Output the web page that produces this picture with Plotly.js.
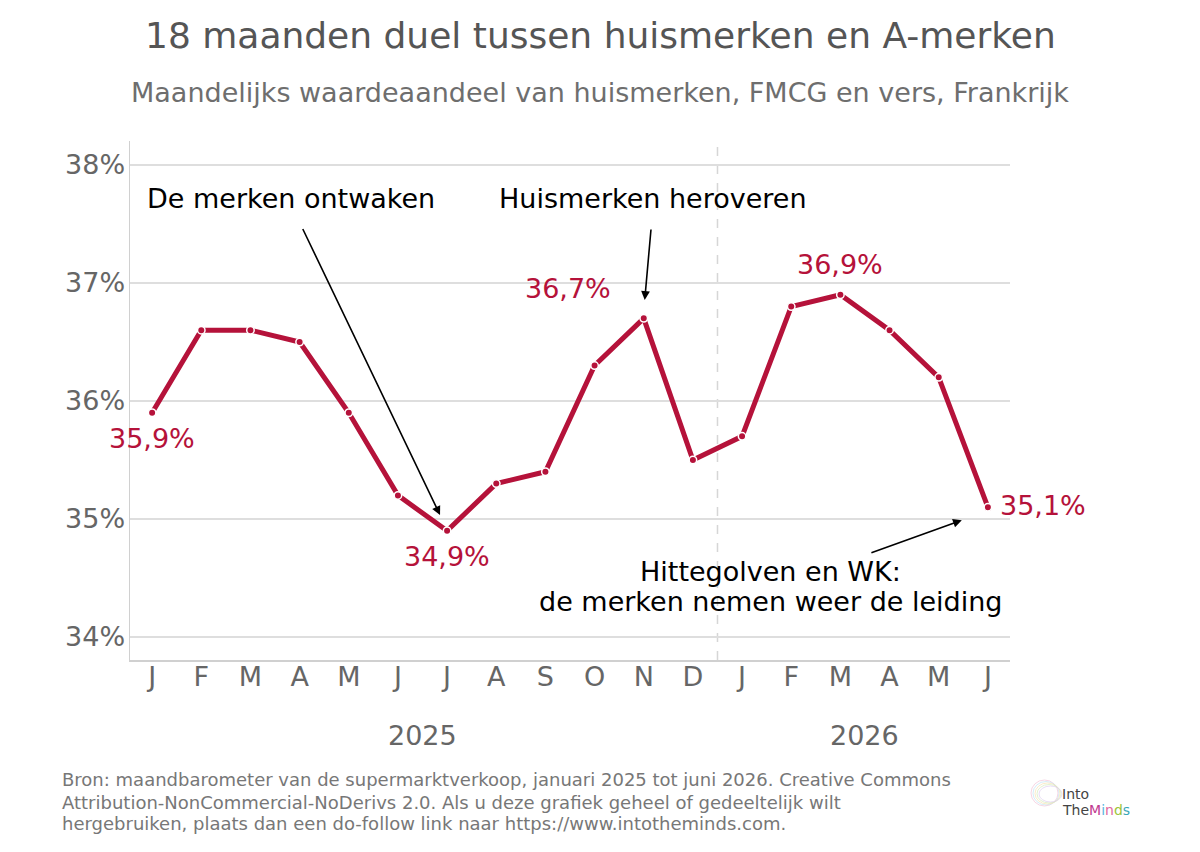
<!DOCTYPE html>
<html><head><meta charset="utf-8">
<script src="https://cdn.plot.ly/plotly-3.0.1.min.js"></script>
<style>body{margin:0;background:#fff}#c{width:1200px;height:852px}</style>
</head><body><div id="c"></div>
<script>
const months = ["J","F","M","A","M","J","J","A","S","O","N","D","J","F","M","A","M","J"];
const share = [35.9,36.6,36.6,36.5,35.9,35.2,34.9,35.3,35.4,36.3,36.7,35.5,35.7,36.8,36.9,36.6,36.2,35.1];
const years = ["2025","2026"];
const yTicks = [34,35,36,37,38];
const yTickLabels = ["34%","35%","36%","37%","38%"];
const footerLines = [
  "Bron: maandbarometer van de supermarktverkoop, januari 2025 tot juni 2026. Creative Commons",
  "Attribution-NonCommercial-NoDerivs 2.0. Als u deze grafiek geheel of gedeeltelijk wilt",
  "hergebruiken, plaats dan een do-follow link naar https://www.intotheminds.com."
];

const red = "#b5123a";
const font = "DejaVu Sans, sans-serif";
const idx = months.map((m,i)=>i);

// plot area in pixels: x 130..1010, y 141..660
const px = v => (v - 130) / 880;
const py = v => (660 - v) / 519;

const trace = {
  x: idx, y: share, type: "scatter", mode: "lines+markers",
  line: {color: red, width: 5},
  marker: {color: red, size: 7.5, line: {color: "#fff", width: 1.5}},
  hoverinfo: "skip"
};

function lab(i, text, xs, ys, anchor){
  return {x: i, y: share[i], text: text, showarrow: false, xshift: xs, yshift: ys,
    xanchor: anchor || "center", yanchor: "middle", font: {family: font, size: 27, color: red}};
}
function blk(x, y, text, anchor){
  return {x: x, y: y, text: text, showarrow: false, xanchor: anchor || "center", yanchor: "middle",
    font: {family: font, size: 27, color: "#000"}};
}
function arrow(x, y, ax, ay){
  return {x: x, y: y, ax: ax, ay: ay, axref: "x", ayref: "y", text: "",
    showarrow: true, arrowhead: 2, arrowsize: 1.1, arrowwidth: 1.6, arrowcolor: "#000", standoff: 0};
}

const annotations = [
  {xref: "paper", yref: "paper", x: px(600), y: py(36), xanchor: "center", yanchor: "middle",
   text: "18 maanden duel tussen huismerken en A-merken", showarrow: false,
   font: {family: font, size: 36, color: "#555"}},
  {xref: "paper", yref: "paper", x: px(600), y: py(92), xanchor: "center", yanchor: "middle",
   text: "Maandelijks waardeaandeel van huismerken, FMCG en vers, Frankrijk", showarrow: false,
   font: {family: font, size: 27, color: "#6e6e6e"}},
  lab(0, "35,9%", 0, -26),
  lab(6, "34,9%", 0, -26),
  lab(10, "36,7%", -76, 30),
  lab(14, "36,9%", 0, 30),
  lab(17, "35,1%", 10, 2, "left"),
  {x: 5.5, y: py(735), yref: "paper", yanchor: "middle", text: years[0], showarrow: false,
   font: {family: font, size: 27, color: "#666"}},
  {x: 14.5, y: py(735), yref: "paper", yanchor: "middle", text: years[1], showarrow: false,
   font: {family: font, size: 27, color: "#666"}},
  blk(-0.142, 37.72, "De merken ontwaken", "left"),
  blk(10.187, 37.72, "Huismerken heroveren"),
  blk(12.586, 34.559, "Hittegolven en WK:"),
  blk(12.586, 34.305, "de merken nemen weer de leiding"),
  arrow(5.856, 35.034, 3.05, 37.47),
  arrow(10.02, 36.856, 10.15, 37.466),
  arrow(16.47, 34.99, 14.6, 34.71)
];
[780, 802, 823].forEach((yy, k) => annotations.push({
  xref: "paper", yref: "paper", x: px(60), y: py(yy), xanchor: "left", yanchor: "middle",
  showarrow: false, text: footerLines[k], font: {family: font, size: 18, color: "#777"}}));
annotations.push({xref: "paper", yref: "paper", x: px(1060), y: py(794), xanchor: "left", yanchor: "middle",
  showarrow: false, text: "Into", font: {family: font, size: 14, color: "#444"}});
annotations.push({xref: "paper", yref: "paper", x: px(1060), y: py(810), xanchor: "left", yanchor: "middle",
  showarrow: false,
  text: "The<span style='color:#c0398f'>M</span><span style='color:#5bb8e0'>i</span><span style='color:#e06aa0'>n</span><span style='color:#9cc43a'>d</span><span style='color:#3aa7b8'>s</span>",
  font: {family: font, size: 14, color: "#444"}});

const logoColors = ["#f5c6da", "#c6e6f5", "#f9e6b5", "#d8edbf", "#e1d0f2"];
const shapes = [{type: "line", xref: "x", yref: "paper", x0: 11.5, x1: 11.5, y0: 0, y1: 1,
  line: {color: "#d6d6d6", width: 1.5, dash: "dash"}, layer: "below"}];
logoColors.forEach((c, k) => shapes.push({type: "circle", xref: "paper", yref: "paper",
  x0: px(1031 + k * 2), x1: px(1058 + k * 1), y0: py(806 - k), y1: py(780 + k * 1.5),
  line: {color: c, width: 1}, opacity: 0.7}));

const layout = {
  width: 1200, height: 852,
  margin: {l: 130, r: 190, t: 141, b: 192},
  paper_bgcolor: "#fff", plot_bgcolor: "#fff",
  showlegend: false,
  xaxis: {range: [-0.45, 17.45], tickmode: "array", tickvals: idx, ticktext: months,
    showgrid: false, zeroline: false, showline: true, linecolor: "#d0d0d0", linewidth: 1.5,
    ticks: "", ticklabelstandoff: -8, tickfont: {family: font, size: 27, color: "#666"}, fixedrange: true},
  yaxis: {range: [33.805, 38.203], tickmode: "array", tickvals: yTicks, ticktext: yTickLabels,
    showgrid: true, gridcolor: "#dedede", gridwidth: 1.5, zeroline: false,
    showline: true, linecolor: "#d0d0d0", linewidth: 1.5, ticks: "", ticklabelstandoff: -2,
    tickfont: {family: font, size: 27, color: "#666"}, fixedrange: true},
  shapes: shapes,
  annotations: annotations
};

Plotly.newPlot("c", [trace], layout, {displayModeBar: false, staticPlot: true});
</script></body></html>
